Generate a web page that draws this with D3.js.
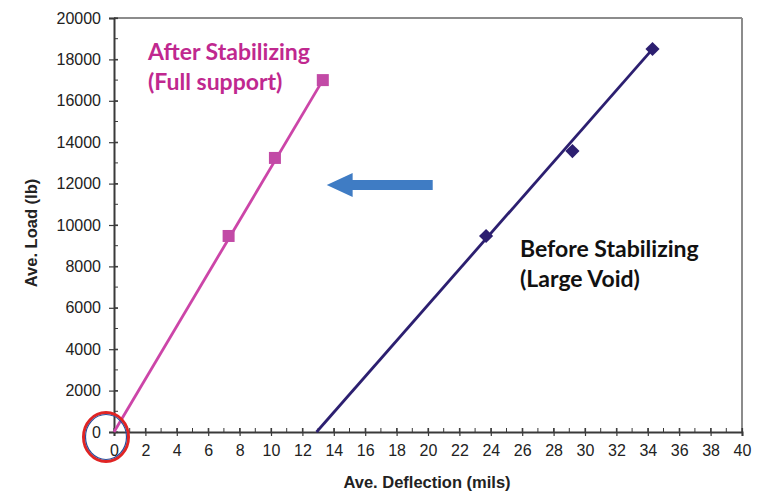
<!DOCTYPE html>
<html>
<head>
<meta charset="utf-8">
<script src="https://cdn.jsdelivr.net/npm/d3@7"></script>
<style>
  body { margin: 0; background: #fff; }
  svg { display: block; }
</style>
</head>
<body>
<svg id="chart" width="766" height="492"></svg>
<script>
// ---- data ----
const afterX = [7.3, 10.25, 13.3];
const afterY = [9470, 13240, 17000];
const beforeX = [23.7, 29.2, 34.3];
const beforeY = [9470, 13570, 18500];
const afterFitX = [0, 13.3];
const afterFitY = [0, 17000];
const beforeFitX = [12.9, 34.3];
const beforeFitY = [0, 18500];
const xTicks = d3.range(0, 41, 2);
const yTicks = d3.range(0, 20001, 2000);
const xMinor = d3.range(0, 41, 1);
const yMinor = d3.range(0, 20001, 1000);
const afterLabel = ["After Stabilizing", "(Full support)"];
const beforeLabel = ["Before Stabilizing", "(Large Void)"];
const xTitle = "Ave. Deflection (mils)";
const yTitle = "Ave. Load (lb)";
// arrow annotation (data space)
const arrowX = [20.3, 15.2, 13.55];
const arrowY = 11930;

// ---- layout ----
const svg = d3.select("#chart");
const pL = 114, pR = 742, pT = 18, pB = 432;
const x = d3.scaleLinear().domain([0, 40]).range([pL, pR]);
const y = d3.scaleLinear().domain([0, 20000]).range([pB, pT]);

const axisColor = "#3a3a3a";
const frameColor = "#8c8c8c";
const pink = "#cc45a8";
const pinkText = "#c0288f";
const navy = "#2c1f70";

// frame (top + right)
svg.append("line").attr("x1", pL).attr("x2", pR).attr("y1", pT).attr("y2", pT)
  .attr("stroke", frameColor).attr("stroke-width", 2);
svg.append("line").attr("x1", pR).attr("x2", pR).attr("y1", pT).attr("y2", pB)
  .attr("stroke", frameColor).attr("stroke-width", 2);

// minor ticks
const gMinor = svg.append("g").attr("stroke", axisColor).attr("stroke-width", 1);
gMinor.selectAll(".mx").data(xMinor).join("line")
  .attr("x1", d => x(d)).attr("x2", d => x(d)).attr("y1", pB - 4).attr("y2", pB);
gMinor.selectAll(".my").data(yMinor).join("line")
  .attr("y1", d => y(d)).attr("y2", d => y(d)).attr("x1", pL).attr("x2", pL + 4);

// axes
const xAxis = d3.axisBottom(x).tickValues(xTicks).tickSize(4).tickPadding(9).tickFormat(d3.format("d"));
const yAxis = d3.axisLeft(y).tickValues(yTicks).tickSize(5).tickPadding(8).tickFormat(d3.format("d"));
const gx = svg.append("g").attr("transform", `translate(0,${pB})`).call(xAxis);
const gy = svg.append("g").attr("transform", `translate(${pL},0)`).call(yAxis);
[gx, gy].forEach(g => {
  g.select(".domain").attr("stroke", axisColor).attr("stroke-width", 2);
  g.selectAll(".tick line").attr("stroke", axisColor).attr("stroke-width", 1.2);
  g.selectAll(".tick text").attr("fill", "#222").style("font-family", "Liberation Sans, Arial, sans-serif").style("font-size", "16px");
});
// major ticks cross axis
gx.selectAll(".tick line").attr("y1", -4).attr("y2", 4);
gy.selectAll(".tick line").attr("x1", 4).attr("x2", -5);

// axis titles
svg.append("text").attr("x", (pL + pR) / 2 - 1).attr("y", 488)
  .attr("text-anchor", "middle").attr("fill", "#222")
  .style("font-family", "Liberation Sans, Arial, sans-serif").style("font-weight", "bold").style("font-size", "16.5px")
  .text(xTitle);
svg.append("text").attr("transform", `translate(37,${(pT + pB) / 2 + 8}) rotate(-90)`)
  .attr("text-anchor", "middle").attr("fill", "#222")
  .style("font-family", "Liberation Sans, Arial, sans-serif").style("font-weight", "bold").style("font-size", "16.5px")
  .text(yTitle);

// fit lines
const line = d3.line().x(d => x(d[0])).y(d => y(d[1]));
svg.append("path").datum(d3.zip(afterFitX, afterFitY)).attr("d", line)
  .attr("fill", "none").attr("stroke", pink).attr("stroke-width", 2.8);
svg.append("path").datum(d3.zip(beforeFitX, beforeFitY)).attr("d", line)
  .attr("fill", "none").attr("stroke", navy).attr("stroke-width", 2.8);

// markers
svg.selectAll(".sq").data(d3.zip(afterX, afterY)).join("rect")
  .attr("x", d => x(d[0]) - 6).attr("y", d => y(d[1]) - 6)
  .attr("width", 12).attr("height", 12).attr("fill", "#c24aa6");
svg.selectAll(".dm").data(d3.zip(beforeX, beforeY)).join("path")
  .attr("d", d3.symbol().type(d3.symbolSquare).size(100))
  .attr("transform", d => `translate(${x(d[0])},${y(d[1])}) rotate(45)`)
  .attr("fill", navy);

// annotations
const annFont = "Lato, 'Open Sans', sans-serif";
const t1 = svg.append("text").attr("fill", pinkText)
  .style("font-family", annFont).style("font-weight", "bold").style("font-size", "23px");
afterLabel.forEach((s, i) => t1.append("tspan").attr("x", 148).attr("y", 60 + i * 30).text(s));
const t2 = svg.append("text").attr("fill", "#111")
  .style("font-family", annFont).style("font-weight", "bold").style("font-size", "23px");
beforeLabel.forEach((s, i) => t2.append("tspan").attr("x", 520).attr("y", 257 + i * 30).text(s));

// blue arrow
const ay = y(arrowY);
const ax0 = x(arrowX[0]), axb = x(arrowX[1]), axt = x(arrowX[2]);
svg.append("path")
  .attr("d", `M${ax0},${ay - 5} L${axb},${ay - 5} L${axb},${ay - 12} L${axt},${ay} L${axb},${ay + 12} L${axb},${ay + 5} L${ax0},${ay + 5} Z`)
  .attr("fill", "#3f7cc4");

// circle around origin
svg.append("ellipse").attr("cx", x(0) - 8).attr("cy", y(0) + 5).attr("rx", 22.5).attr("ry", 24.5)
  .attr("fill", "none").attr("stroke", "#e02424").attr("stroke-width", 3);
svg.append("ellipse").attr("cx", x(0) - 8).attr("cy", y(0) + 5).attr("rx", 20.5).attr("ry", 22.5)
  .attr("fill", "none").attr("stroke", "#2a4d9a").attr("stroke-width", 1.2);
</script>
</body>
</html>
